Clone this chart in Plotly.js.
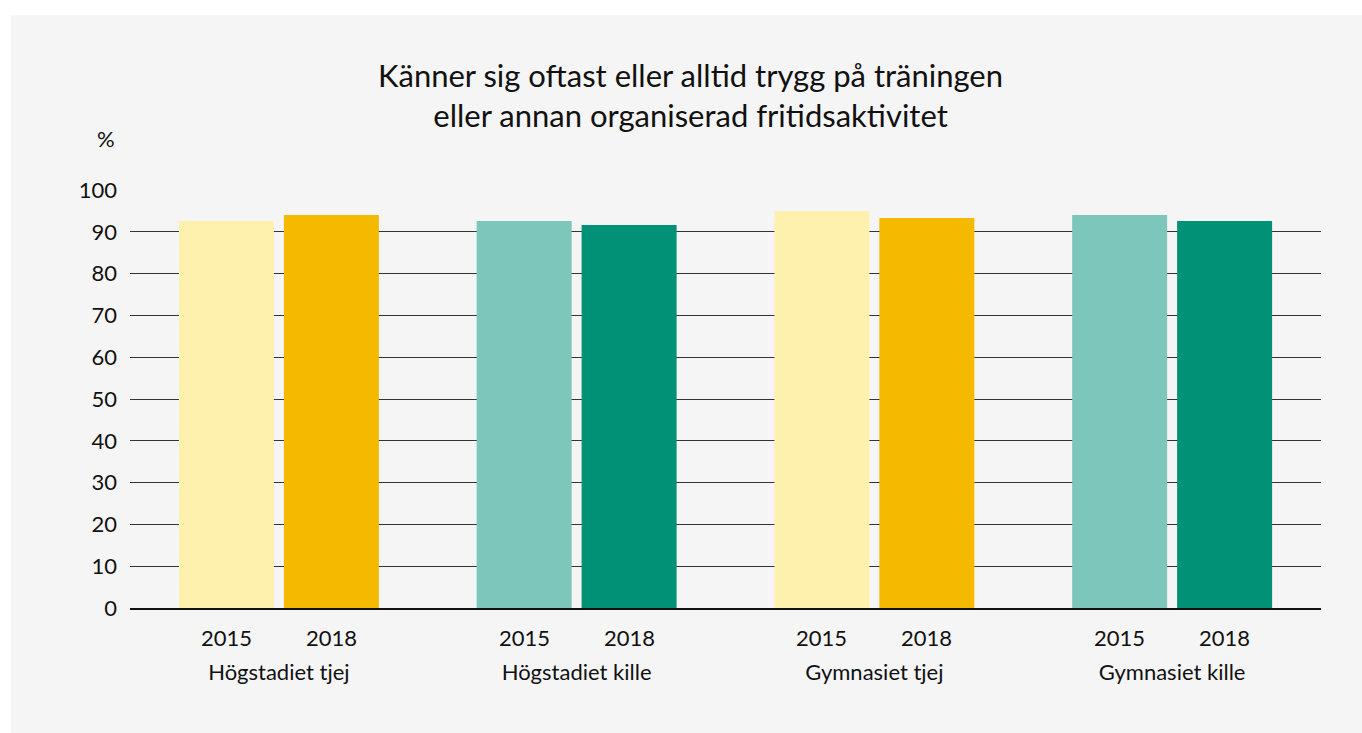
<!DOCTYPE html>
<html>
<head>
<meta charset="utf-8">
<script src="https://cdn.plot.ly/plotly-3.0.1.min.js"></script>
<style>
  html, body { margin: 0; padding: 0; background: #ffffff; width: 1362px; height: 733px; overflow: hidden; }
  #chart { position: absolute; left: 11px; top: 15px; width: 1351px; height: 718px; }
</style>
</head>
<body>
<div id="chart"></div>
<script>
// Data
const categories = ["Högstadiet tjej", "Högstadiet kille", "Gymnasiet tjej", "Gymnasiet kille"];
const years = ["2015", "2018"];
const values2015 = [92.6, 92.6, 95.0, 94.0];
const values2018 = [94.0, 91.6, 93.3, 92.6];
const yTicks = [0, 10, 20, 30, 40, 50, 60, 70, 80, 90, 100];
const titleText = "Känner sig oftast eller alltid trygg på träningen<br>eller annan organiserad fritidsaktivitet";
const yUnit = "%";

// Styling
const colors2015 = ["#fef0ad", "#7dc6bc", "#fef0ad", "#7dc6bc"];
const colors2018 = ["#f5ba00", "#009176", "#f5ba00", "#009176"];
const FONT = "Lato, 'Open Sans', sans-serif";
const TXT = "#111111";

const traces = [
  { type: "bar", name: years[0], x: categories, y: values2015,
    marker: { color: colors2015, line: { width: 0 } }, hoverinfo: "x+y" },
  { type: "bar", name: years[1], x: categories, y: values2018,
    marker: { color: colors2018, line: { width: 0 } }, hoverinfo: "x+y" }
];

const annotations = [];
categories.forEach(function (c) {
  years.forEach(function (yr, i) {
    annotations.push({
      text: yr, x: c, xref: "x", y: 0, yref: "y",
      xanchor: "center", yanchor: "middle",
      xshift: i === 0 ? -52.5 : 52.5, yshift: -29,
      showarrow: false, font: { family: FONT, size: 22, color: TXT }
    });
  });
});
annotations.push({
  text: yUnit, xref: "paper", x: 0, xanchor: "right", xshift: -13,
  yref: "paper", y: 1, yanchor: "middle", yshift: 52,
  showarrow: false, font: { family: FONT, size: 22, color: TXT }
});

const layout = {
  width: 1351, height: 718,
  paper_bgcolor: "#f5f5f5", plot_bgcolor: "#f5f5f5",
  margin: { l: 119, r: 41, t: 175, b: 125 },
  showlegend: false,
  barmode: "group", bargap: 0.295, bargroupgap: 0.095,
  font: { family: FONT, size: 22, color: TXT },
  title: {
    text: titleText, xref: "container", x: 0.503, xanchor: "center",
    yref: "container", y: 1 - 72 / 718, yanchor: "middle",
    font: { family: FONT, size: 31, color: TXT }
  },
  xaxis: {
    type: "category", showgrid: false, zeroline: false,
    showline: true, linecolor: "#111111", linewidth: 2,
    ticks: "outside", ticklen: 44, tickcolor: "rgba(0,0,0,0)",
    tickfont: { family: FONT, size: 22, color: TXT }
  },
  yaxis: {
    range: [0, 100], tickvals: yTicks, ticktext: yTicks.map(String),
    showgrid: true, gridcolor: "#333333", gridwidth: 1,
    zeroline: false, showline: false, ticks: "",
    ticklabelstandoff: 12,
    tickfont: { family: FONT, size: 22, color: TXT }
  },
  annotations: annotations
};

Plotly.newPlot("chart", traces, layout, { staticPlot: true, displayModeBar: false });
</script>
</body>
</html>
